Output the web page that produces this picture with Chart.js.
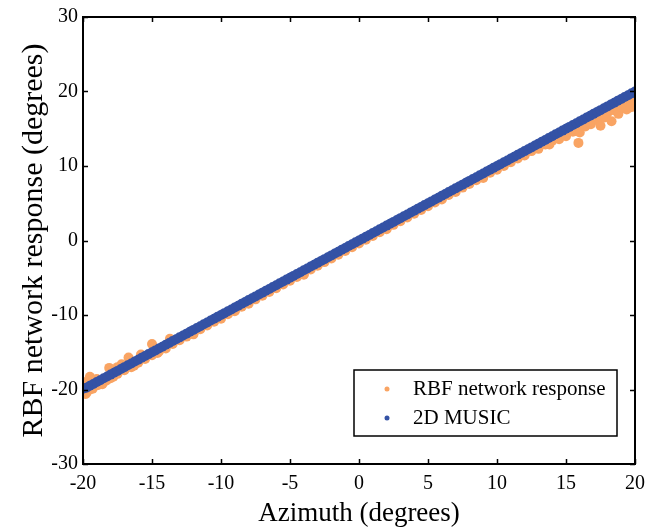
<!DOCTYPE html>
<html>
<head>
<meta charset="utf-8">
<script src="https://cdn.jsdelivr.net/npm/chart.js@4"></script>
<style>
  html, body { margin: 0; padding: 0; background: #fff; }
  #wrap { width: 656px; height: 530px; }
</style>
</head>
<body>
<div id="wrap"><canvas id="myChart" width="656" height="530"></canvas></div>
<script>
// Data
// 2D MUSIC estimates, every 0.25 deg
const musicAzimuth = [
  -20, -19.75, -19.5, -19.25, -19, -18.75, -18.5, -18.25, -18, -17.75,
  -17.5, -17.25, -17, -16.75, -16.5, -16.25, -16, -15.75, -15.5, -15.25,
  -15, -14.75, -14.5, -14.25, -14, -13.75, -13.5, -13.25, -13, -12.75,
  -12.5, -12.25, -12, -11.75, -11.5, -11.25, -11, -10.75, -10.5, -10.25,
  -10, -9.75, -9.5, -9.25, -9, -8.75, -8.5, -8.25, -8, -7.75,
  -7.5, -7.25, -7, -6.75, -6.5, -6.25, -6, -5.75, -5.5, -5.25,
  -5, -4.75, -4.5, -4.25, -4, -3.75, -3.5, -3.25, -3, -2.75,
  -2.5, -2.25, -2, -1.75, -1.5, -1.25, -1, -0.75, -0.5, -0.25,
  0, 0.25, 0.5, 0.75, 1, 1.25, 1.5, 1.75, 2, 2.25,
  2.5, 2.75, 3, 3.25, 3.5, 3.75, 4, 4.25, 4.5, 4.75,
  5, 5.25, 5.5, 5.75, 6, 6.25, 6.5, 6.75, 7, 7.25,
  7.5, 7.75, 8, 8.25, 8.5, 8.75, 9, 9.25, 9.5, 9.75,
  10, 10.25, 10.5, 10.75, 11, 11.25, 11.5, 11.75, 12, 12.25,
  12.5, 12.75, 13, 13.25, 13.5, 13.75, 14, 14.25, 14.5, 14.75,
  15, 15.25, 15.5, 15.75, 16, 16.25, 16.5, 16.75, 17, 17.25,
  17.5, 17.75, 18, 18.25, 18.5, 18.75, 19, 19.25, 19.5, 19.75, 20
];
const music = [
  -19.9, -19.75, -19.5, -19.25, -19, -18.75, -18.5, -18.25, -18, -17.75,
  -17.5, -17.25, -17, -16.75, -16.5, -16.25, -16, -15.75, -15.5, -15.25,
  -15, -14.75, -14.5, -14.25, -14, -13.75, -13.5, -13.25, -13, -12.75,
  -12.5, -12.25, -12, -11.75, -11.5, -11.25, -11, -10.75, -10.5, -10.25,
  -10, -9.75, -9.5, -9.25, -9, -8.75, -8.5, -8.25, -8, -7.75,
  -7.5, -7.25, -7, -6.75, -6.5, -6.25, -6, -5.75, -5.5, -5.25,
  -5, -4.75, -4.5, -4.25, -4, -3.75, -3.5, -3.25, -3, -2.75,
  -2.5, -2.25, -2, -1.75, -1.5, -1.25, -1, -0.75, -0.5, -0.25,
  0, 0.25, 0.5, 0.75, 1, 1.25, 1.5, 1.75, 2, 2.25,
  2.5, 2.75, 3, 3.25, 3.5, 3.75, 4, 4.25, 4.5, 4.75,
  5, 5.25, 5.5, 5.75, 6, 6.25, 6.5, 6.75, 7, 7.25,
  7.5, 7.75, 8, 8.25, 8.5, 8.75, 9, 9.25, 9.5, 9.75,
  10, 10.25, 10.5, 10.75, 11, 11.25, 11.5, 11.75, 12, 12.25,
  12.5, 12.75, 13, 13.25, 13.5, 13.75, 14, 14.25, 14.5, 14.75,
  15, 15.25, 15.5, 15.75, 16, 16.25, 16.5, 16.75, 17, 17.25,
  17.5, 17.75, 18, 18.25, 18.5, 18.75, 19, 19.25, 19.5, 19.75, 20
];
// RBF network response, every 0.5 deg
const rbfAzimuth = [
  -20, -19.5, -19, -18.5, -18, -17.5, -17, -16.5, -16, -15.5,
  -15, -14.5, -14, -13.5, -13, -12.5, -12, -11.5, -11, -10.5,
  -10, -9.5, -9, -8.5, -8, -7.5, -7, -6.5, -6, -5.5,
  -5, -4.5, -4, -3.5, -3, -2.5, -2, -1.5, -1, -0.5,
  0, 0.5, 1, 1.5, 2, 2.5, 3, 3.5, 4, 4.5,
  5, 5.5, 6, 6.5, 7, 7.5, 8, 8.5, 9, 9.5,
  10, 10.5, 11, 11.5, 12, 12.5, 13, 13.5, 14, 14.5,
  15, 15.5, 16, 16.5, 17, 17.5, 18, 18.5, 19, 19.5, 20
];
const rbf = [
  -20.5, -20.0, -19.4, -19.0, -18.5, -17.9, -17.4, -17.0, -16.4, -15.9,
  -15.4, -14.9, -14.5, -13.9, -13.4, -12.9, -12.5, -11.9, -11.4, -10.9,
  -10.5, -9.9, -9.4, -8.9, -8.5, -7.9, -7.4, -6.9, -6.4, -5.9,
  -5.4, -4.9, -4.5, -3.9, -3.4, -2.9, -2.4, -1.9, -1.4, -0.9,
  -0.4, 0.1, 0.6, 1.1, 1.6, 2.1, 2.6, 3.1, 3.6, 4.1,
  4.6, 5.1, 5.6, 6.1, 6.5, 7.1, 7.6, 8.1, 8.6, 9.1,
  9.5, 10.0, 10.5, 11.0, 11.5, 12.0, 12.4, 12.9, 13.4, 13.9,
  14.3, 14.8, 15.3, 15.7, 16.2, 16.6, 17.1, 17.5, 18.0, 18.4, 18.9
];
// extra RBF trials (scattered ones near the ends)
const rbfExtraX = [
  -20, -19.8, -19.5, -19.3, -19, -18.6, -18.1, -17.8, -17.2, -16.7,
  -16.3, -15.8, -15, -14.6, -13.7, -12, -9, -4, 2, 6,
  9, 12, 13, 13.8, 14.5, 15, 15.5, 15.9, 16, 16.4,
  16.8, 17.2, 17.5, 17.8, 18.3, 18.5, 18.8, 19, 19.2, 19.4,
  19.6, 19.8, 19.9, 20, 20, 17, 18, 19.1, 19.7, 20,
  -19.7, -18.9, -18.3, -17.5
];
const rbfExtraY = [
  -19.0, -20.6, -18.3, -19.9, -18.6, -19.3, -17.1, -18.3, -16.6, -15.7,
  -16.8, -15.3, -13.9, -15.1, -13.2, -12.6, -9.5, -4.6, 1.5, 5.5,
  8.4, 11.4, 12.3, 12.9, 13.6, 14.0, 14.6, 13.1, 14.5, 15.3,
  15.6, 16.2, 15.4, 16.5, 16.0, 17.5, 17.0, 17.9, 18.6, 17.6,
  18.3, 19.1, 18.0, 18.6, 19.5, 16.6, 17.4, 18.9, 17.9, 18.2,
  -20.3, -19.4, -18.8, -17.0
];
const xTicks = [-20, -15, -10, -5, 0, 5, 10, 15, 20];
const yTicks = [-30, -20, -10, 0, 10, 20, 30];

const orange = '#f9a463';
const blue = '#3452a5';
const serif = "'Liberation Serif', 'Times New Roman', serif";

const rbfPoints = rbfAzimuth.map((x, i) => ({ x: x, y: rbf[i] }))
  .concat(rbfExtraX.map((x, i) => ({ x: x, y: rbfExtraY[i] })));
const musicPoints = musicAzimuth.map((x, i) => ({ x: x, y: music[i] }));

// box round the plot, inward ticks, legend inside the plot
const framePlugin = {
  id: 'frame',
  afterDraw(chart) {
    const ctx = chart.ctx;
    const a = chart.chartArea;
    const xs = chart.scales.x, ys = chart.scales.y;
    ctx.save();
    ctx.strokeStyle = '#000';
    ctx.lineWidth = 1.5;
    ctx.beginPath();
    xTicks.forEach(v => {
      const px = Math.round(xs.getPixelForValue(v)) + 0.5;
      ctx.moveTo(px, a.bottom); ctx.lineTo(px, a.bottom - 5);
      ctx.moveTo(px, a.top); ctx.lineTo(px, a.top + 5);
    });
    yTicks.forEach(v => {
      const py = Math.round(ys.getPixelForValue(v)) + 0.5;
      ctx.moveTo(a.left, py); ctx.lineTo(a.left + 5, py);
      ctx.moveTo(a.right, py); ctx.lineTo(a.right - 5, py);
    });
    ctx.stroke();
    ctx.lineWidth = 2;
    ctx.strokeRect(a.left, a.top, a.right - a.left, a.bottom - a.top);

    // legend
    const bw = 263, bh = 66;
    const bx = a.right - 18 - bw, by = a.bottom - 28 - bh;
    ctx.fillStyle = '#fff';
    ctx.fillRect(bx, by, bw, bh);
    ctx.lineWidth = 1.5;
    ctx.strokeRect(bx, by, bw, bh);
    ctx.font = '21px ' + serif;
    ctx.textBaseline = 'middle';
    const items = [chart.data.datasets[1], chart.data.datasets[0]];
    items.forEach((ds, i) => {
      const cy = by + 19 + i * 29;
      ctx.fillStyle = ds.backgroundColor;
      ctx.beginPath();
      ctx.arc(bx + 33, cy, 2.5, 0, Math.PI * 2);
      ctx.fill();
      ctx.fillStyle = '#000';
      ctx.fillText(ds.label, bx + 59, cy);
    });
    ctx.restore();
  }
};

const config = {
  type: 'scatter',
  data: {
    datasets: [
      {
        // drawn on top
        label: '2D MUSIC',
        data: musicPoints,
        backgroundColor: blue,
        borderColor: blue,
        pointRadius: 5,
        pointBorderWidth: 0
      },
      {
        label: 'RBF network response',
        data: rbfPoints,
        backgroundColor: orange,
        borderColor: orange,
        pointRadius: 5,
        pointBorderWidth: 0
      }
    ]
  },
  options: {
    responsive: false,
    animation: false,
    layout: { padding: { top: 15, right: 21, left: 0, bottom: 0 } },
    plugins: {
      legend: { display: false },
      tooltip: { enabled: false }
    },
    scales: {
      x: {
        type: 'linear',
        min: -20, max: 20,
        afterFit(scale) { scale.height = 66; },
        afterBuildTicks(scale) { scale.ticks = xTicks.map(v => ({ value: v })); },
        grid: { display: false, drawTicks: false },
        border: { display: false },
        ticks: {
          color: '#000',
          padding: 8,
          font: { family: serif, size: 20 }
        },
        title: {
          display: true,
          text: 'Azimuth (degrees)',
          color: '#000',
          padding: { top: 0, bottom: 0 },
          font: { family: serif, size: 27 }
        }
      },
      y: {
        type: 'linear',
        min: -30, max: 30,
        afterFit(scale) { scale.width = 83; },
        afterBuildTicks(scale) { scale.ticks = yTicks.map(v => ({ value: v })); },
        grid: { display: false, drawTicks: false },
        border: { display: false },
        ticks: {
          color: '#000',
          padding: 5,
          font: { family: serif, size: 20 }
        },
        title: {
          display: true,
          text: 'RBF network response (degrees)',
          color: '#000',
          padding: { top: 16, bottom: 0 },
          font: { family: serif, size: 30 }
        }
      }
    }
  },
  plugins: [framePlugin]
};

const myChart = new Chart(document.getElementById('myChart'), config);
</script>
</body>
</html>
